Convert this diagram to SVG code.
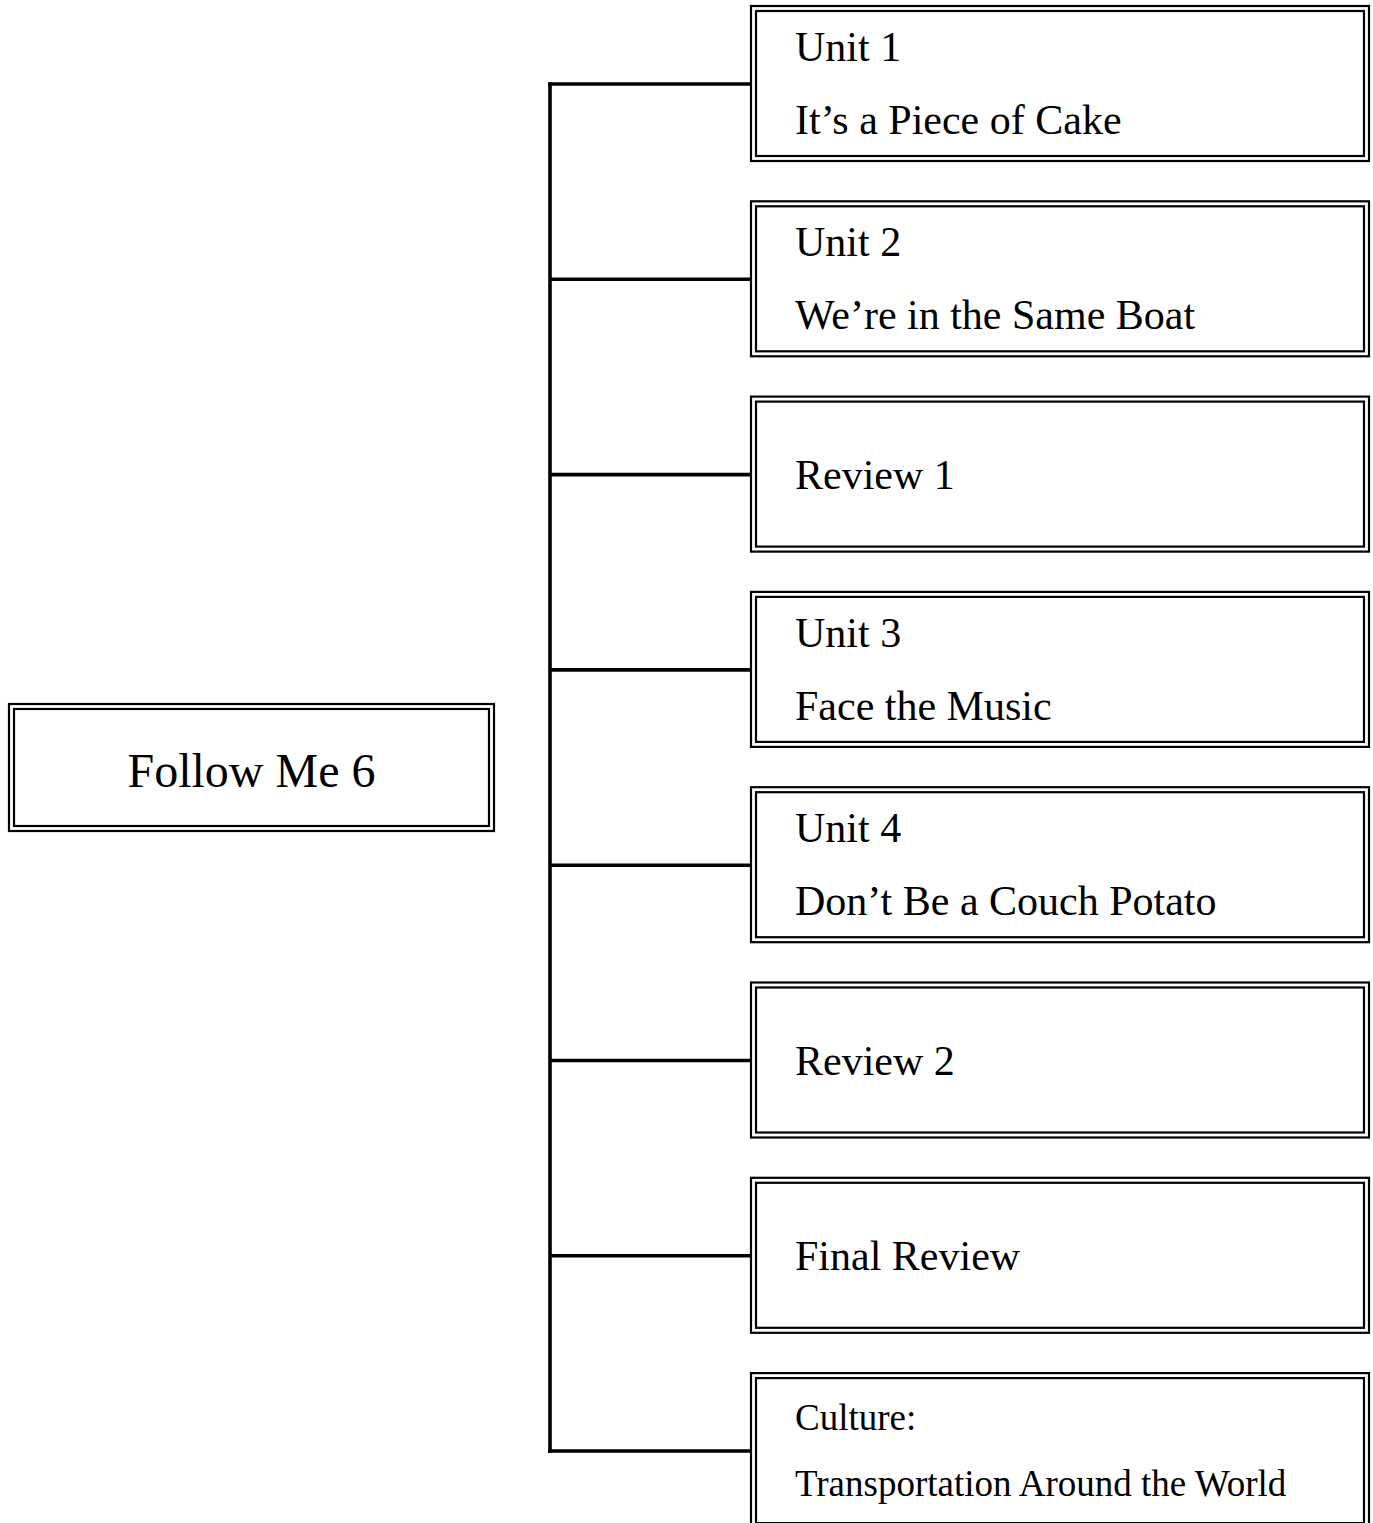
<svg xmlns="http://www.w3.org/2000/svg" width="1373" height="1523" viewBox="0 0 1373 1523">
<style>
.o{fill:none;stroke:#000;stroke-width:2.2}
.i{fill:none;stroke:#000;stroke-width:2.2}
.c{fill:none;stroke:#000;stroke-width:3.6}
text{font-family:"Liberation Serif","Times New Roman",serif;fill:#000}
.t{font-size:42px}
.s{font-size:37px}
.r{font-size:48px}
</style>
<rect width="1373" height="1523" fill="#fff"/>
<g id="connectors">
<line class="c" x1="550" y1="82.2" x2="550" y2="1452.8"/>
<line class="c" x1="548.2" y1="84" x2="751" y2="84"/>
<line class="c" x1="550" y1="279.3" x2="751" y2="279.3"/>
<line class="c" x1="550" y1="474.6" x2="751" y2="474.6"/>
<line class="c" x1="550" y1="669.9" x2="751" y2="669.9"/>
<line class="c" x1="550" y1="865.2" x2="751" y2="865.2"/>
<line class="c" x1="550" y1="1060.5" x2="751" y2="1060.5"/>
<line class="c" x1="550" y1="1255.8" x2="751" y2="1255.8"/>
<line class="c" x1="548.2" y1="1451" x2="751" y2="1451"/>
</g>
<g id="root">
<rect class="o" x="9" y="704" width="485" height="127"/>
<rect class="i" x="14" y="709" width="475" height="117"/>
<text class="r" x="251.5" y="787" text-anchor="middle">Follow Me 6</text>
</g>
<g id="unit1">
<rect class="o" x="751" y="6" width="618" height="155"/>
<rect class="i" x="756" y="11" width="608" height="145"/>
<text class="t" x="795" y="61">Unit 1</text>
<text class="t" x="795" y="134">It’s a Piece of Cake</text>
</g>
<g id="unit2">
<rect class="o" x="751" y="201.3" width="618" height="155"/>
<rect class="i" x="756" y="206.3" width="608" height="145"/>
<text class="t" x="795" y="256.3">Unit 2</text>
<text class="t" x="795" y="329.3">We’re in the Same Boat</text>
</g>
<g id="review1">
<rect class="o" x="751" y="396.6" width="618" height="155"/>
<rect class="i" x="756" y="401.6" width="608" height="145"/>
<text class="t" x="795" y="488.6">Review 1</text>
</g>
<g id="unit3">
<rect class="o" x="751" y="591.9" width="618" height="155"/>
<rect class="i" x="756" y="596.9" width="608" height="145"/>
<text class="t" x="795" y="646.9">Unit 3</text>
<text class="t" x="795" y="719.9">Face the Music</text>
</g>
<g id="unit4">
<rect class="o" x="751" y="787.2" width="618" height="155"/>
<rect class="i" x="756" y="792.2" width="608" height="145"/>
<text class="t" x="795" y="842.2">Unit 4</text>
<text class="t" x="795" y="915.2">Don’t Be a Couch Potato</text>
</g>
<g id="review2">
<rect class="o" x="751" y="982.5" width="618" height="155"/>
<rect class="i" x="756" y="987.5" width="608" height="145"/>
<text class="t" x="795" y="1074.5">Review 2</text>
</g>
<g id="finalreview">
<rect class="o" x="751" y="1177.8" width="618" height="155"/>
<rect class="i" x="756" y="1182.8" width="608" height="145"/>
<text class="t" x="795" y="1269.8">Final Review</text>
</g>
<g id="culture">
<rect class="o" x="751" y="1373.1" width="618" height="155"/>
<rect class="i" x="756" y="1378.1" width="608" height="145"/>
<text class="s" x="795" y="1430">Culture:</text>
<text class="s" x="795" y="1496">Transportation Around the World</text>
</g>
</svg>
